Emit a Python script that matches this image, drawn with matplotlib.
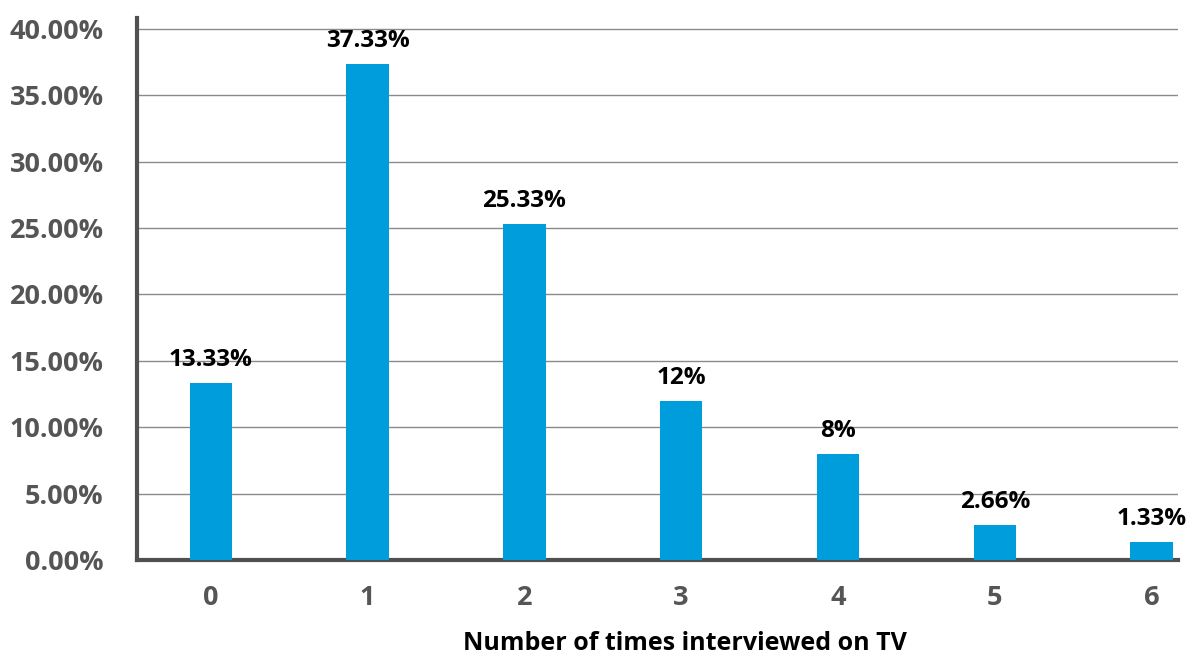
import matplotlib.pyplot as plt
from matplotlib.ticker import FuncFormatter

plt.rcParams['font.family'] = ['Open Sans', 'DejaVu Sans']

categories = ['0', '1', '2', '3', '4', '5', '6']
values = [13.33, 37.33, 25.33, 12, 8, 2.66, 1.33]
value_labels = ['13.33%', '37.33%', '25.33%', '12%', '8%', '2.66%', '1.33%']

fig = plt.figure(figsize=(11.86, 6.54), dpi=100)
ax = fig.add_axes([0.1155, 0.1437, 0.8780, 0.8290])

x = list(range(len(categories)))
ax.bar(x, values, width=0.27, color='#009ddc', zorder=3)

for xi, v, lab in zip(x, values, value_labels):
    ax.annotate(lab, (xi, v), xytext=(0, 8), textcoords='offset points',
                ha='center', va='bottom', fontsize=17.5, fontweight='bold', color='black')

ax.set_xlim(-0.47, 6.17)
ax.set_ylim(0, 40.83)
ax.set_yticks([0, 5, 10, 15, 20, 25, 30, 35, 40])
ax.yaxis.set_major_formatter(FuncFormatter(lambda v, p: f'{v:.2f}%'))
ax.set_xticks(x)
ax.set_xticklabels(categories)

ax.grid(axis='y', color='#8a8a8a', linewidth=1, zorder=0)
ax.tick_params(axis='both', length=0, labelsize=19.5, labelcolor='#555555')
ax.tick_params(axis='y', pad=24)
ax.tick_params(axis='x', pad=18)
for lab in ax.get_xticklabels() + ax.get_yticklabels():
    lab.set_fontweight('bold')

for s in ['top', 'right']:
    ax.spines[s].set_visible(False)
for s in ['left', 'bottom']:
    ax.spines[s].set_color('#505050')
    ax.spines[s].set_linewidth(3)

fig.text(685 / 1186, 1 - 643 / 654, 'Number of times interviewed on TV',
         ha='center', va='center', fontsize=18, fontweight='bold', color='black')

fig.savefig('out.png', dpi=100)
